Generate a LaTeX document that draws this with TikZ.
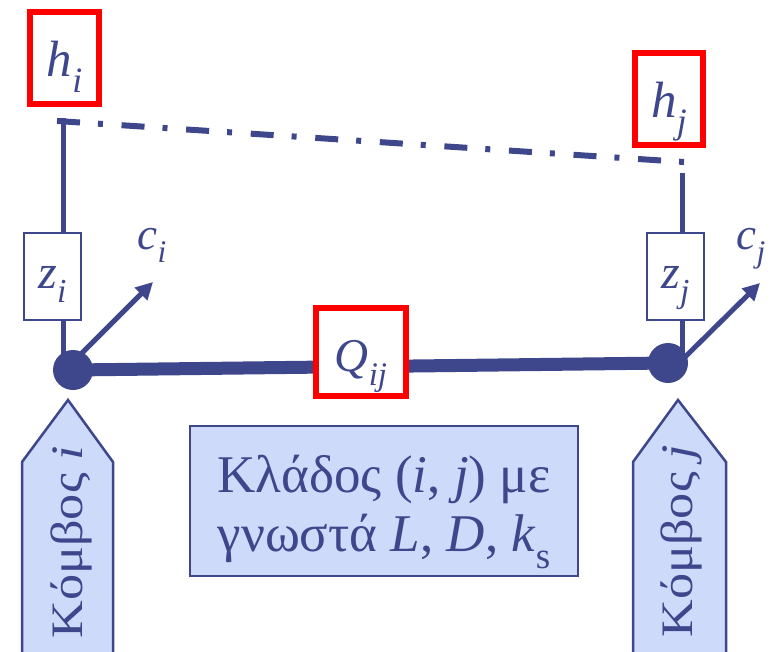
\documentclass[tikz,border=0pt]{standalone}
\usepackage{fontspec}
\setmainfont{Liberation Serif}
\usepackage{graphicx}
\usetikzlibrary{arrows.meta}
\definecolor{navy}{RGB}{62,70,140}
\definecolor{lblue}{RGB}{205,218,250}
\newcommand{\lowsub}[1]{\raisebox{-0.31em}{\scalebox{0.7}{#1}}}
\begin{document}
\begin{tikzpicture}[x=1pt,y=-1pt,
  redbox/.style={draw=red, line width=6pt, fill=white, inner sep=0pt, text=navy,
    text height=38pt, text depth=0pt, font=\fontsize{51}{56}\selectfont},
  zbox/.style={draw=navy, line width=2pt, fill=white, inner sep=0pt, text=navy,
    minimum width=57pt, minimum height=87pt, text height=23pt, text depth=0pt,
    font=\fontsize{48}{54}\selectfont},
  pipe/.style={navy, line width=5pt},
  joint/.style={circle, fill=navy, inner sep=0pt, minimum size=40pt},
  vel/.style={navy, line width=5pt, -{Triangle[length=17pt,width=17pt]}},
  lbl/.style={text=navy, inner sep=0pt},
  nodebox/.style={fill=lblue, draw=navy, line width=2.5pt, line join=miter}]
\clip (0,0) rectangle (775,652);
% piezometric line
\coordinate (hli) at (57,121);
\coordinate (hlj) at (684,162);
\draw[navy, line width=6pt, dash pattern=on 23pt off 18pt on 5pt off 18.7pt] (hli) -- (hlj);
% joints and pipe
\node[joint] (ni) at (73,370) {};
\node[joint] (nj) at (668,363) {};
\draw[navy, line width=13pt] (ni.center) -- (nj.center);
% elevation boxes
\node[zbox] (zi) at (52.5,276.5) {\textit{z}\lowsub{\textit{i}}};
\node[zbox] (zj) at (675.5,276.5) {\textit{z}\lowsub{\textit{j}}};
\coordinate (ti) at (63,118.5);
\coordinate (bi) at (63,372);
\coordinate (tj) at (682,173);
\coordinate (bj) at (682,360);
\draw[pipe] (ti) -- (ti |- zi.north);
\draw[pipe] (ti |- zi.south) -- (bi);
\draw[pipe] (tj) -- (tj |- zj.north);
\draw[pipe] (tj |- zj.south) -- (bj);
% velocity arrows
\coordinate (ci) at (153,282);
\coordinate (cj) at (760,283);
\draw[vel] (bi) -- (ci);
\draw[vel] (bj) -- (cj);
\node[lbl, anchor=base, font=\fontsize{45}{50}\selectfont] (lci) at (152,249) {\textit{c}\lowsub{\textit{i}}};
\node[lbl, anchor=base, font=\fontsize{45}{50}\selectfont] (lcj) at (751,249) {\textit{c}\lowsub{\textit{j}}};
% red boxes
\node[redbox, minimum width=69pt, minimum height=92pt] (hi) at (64.5,58) {\textit{h}\lowsub{\textit{i}}};
\node[redbox, minimum width=68pt, minimum height=92pt] (hj) at (669,99) {\textit{h}\lowsub{\textit{j}}};
\node[redbox, minimum width=90pt, minimum height=88pt, font=\fontsize{47}{52}\selectfont] (q) at (361,352) {\textit{Q}\lowsub{\textit{ij}}};
% node markers
\draw[nodebox] (22,660) -- (22,462) -- (68,400) -- (113,462) -- (113,660);
\draw[nodebox] (633,660) -- (633,462) -- (678,400) -- (726,462) -- (726,660);
\node[lbl, rotate=90, anchor=base, font=\fontsize{45}{50}\selectfont] (ki) at (82,542) {\scalebox{1.16}[1]{Κόμβος \textit{i}}};
\node[lbl, rotate=90, anchor=base, font=\fontsize{45}{50}\selectfont] (kj) at (692,541) {\scalebox{1.16}[1]{Κόμβος \textit{j}}};
% branch box
\node[nodebox, minimum width=388pt, minimum height=150pt, inner sep=0pt] (br) at (384,501) {};
\node[lbl, align=center, font=\fontsize{53}{59}\selectfont] (brt) at (384,512)
  {Κλάδος (\textit{i}, \textit{j}) με\\γνωστά \textit{L}, \textit{D}, \textit{k}\lowsub{s}};
\end{tikzpicture}
\end{document}
